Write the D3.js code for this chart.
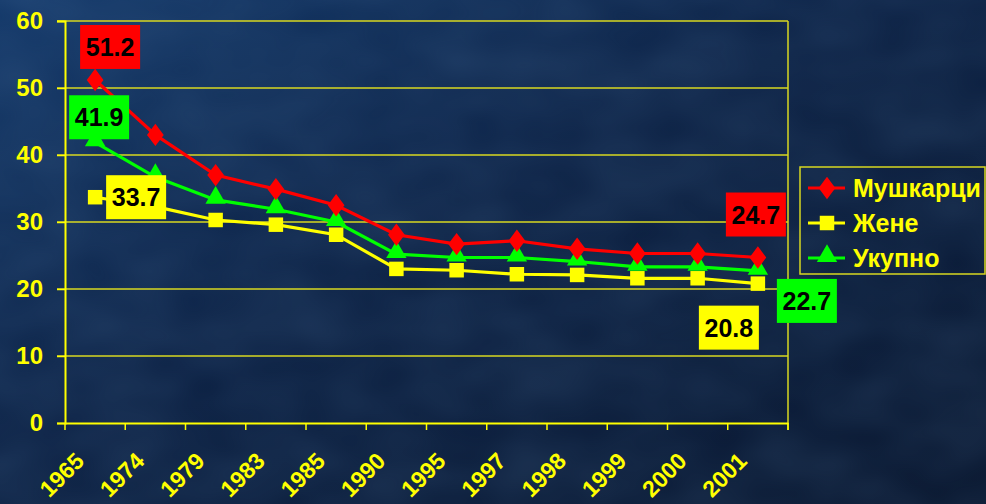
<!DOCTYPE html>
<html>
<head>
<meta charset="utf-8">
<script src="https://cdn.jsdelivr.net/npm/d3@7"></script>
<style>
  body { margin: 0; background: #0b1a33; }
  svg { display: block; }
</style>
</head>
<body>
<div id="chart"></div>
<script>
var years = ["1965", "1974", "1979", "1983", "1985", "1990", "1995", "1997", "1998", "1999", "2000", "2001"];
var men   = [51.2, 43.0, 37.0, 34.9, 32.5, 28.1, 26.7, 27.2, 26.0, 25.3, 25.3, 24.7];
var women = [33.7, 32.3, 30.3, 29.6, 28.1, 23.0, 22.8, 22.2, 22.1, 21.6, 21.6, 20.8];
var total = [41.9, 36.7, 33.3, 31.9, 30.0, 25.2, 24.7, 24.7, 24.1, 23.3, 23.3, 22.7];
var seriesNames = ["Мушкарци", "Жене", "Укупно"];
var yTicks = [0, 10, 20, 30, 40, 50, 60];

var width = 986,
    height = 504;

var margin = {left: 65, right: 198, top: 21, bottom: 81};
var font = "Liberation Sans, Arial, sans-serif";

var series = [
  {name: seriesNames[0], values: men,   color: "#ff0000", symbol: d3.symbolDiamond, size: 200},
  {name: seriesNames[1], values: women, color: "#ffff00", symbol: d3.symbolSquare,  size: 210},
  {name: seriesNames[2], values: total, color: "#00ff00", symbol: d3.symbolTriangle, size: 180}
];

// where the value boxes sit, relative to the point (first and last point)
var labelPlace = [
  [{dx: 15, dy: -33}, {dx: -2, dy: -43}],
  [{dx: 41, dy: 0},   {dx: -29, dy: 44}],
  [{dx: 4, dy: -25},  {dx: 49, dy: 30}]
];

var svg = d3.select("#chart")
    .append("svg")
    .attr("width", width)
    .attr("height", height);

// background
var defs = svg.append("defs");
var grad = defs.append("linearGradient")
    .attr("id", "bg")
    .attr("x1", "0").attr("y1", "0")
    .attr("x2", "1").attr("y2", "1");
grad.append("stop").attr("offset", "0%").attr("stop-color", "#153a6b");
grad.append("stop").attr("offset", "45%").attr("stop-color", "#0e2447");
grad.append("stop").attr("offset", "100%").attr("stop-color", "#0a1830");

var filt = defs.append("filter").attr("id", "mottle")
    .attr("x", 0).attr("y", 0).attr("width", "100%").attr("height", "100%");
filt.append("feTurbulence")
    .attr("type", "fractalNoise")
    .attr("baseFrequency", "0.012 0.02")
    .attr("numOctaves", 2)
    .attr("seed", 7);
filt.append("feColorMatrix")
    .attr("type", "matrix")
    .attr("values", "0 0 0 0 0.12  0 0 0 0 0.25  0 0 0 0 0.45  0 0 0 0.35 -0.05");

svg.append("rect")
    .attr("width", width).attr("height", height)
    .attr("fill", "url(#bg)");
svg.append("rect")
    .attr("width", width).attr("height", height)
    .attr("filter", "url(#mottle)")
    .attr("opacity", 0.6);

var x = d3.scaleBand()
    .domain(years)
    .range([margin.left, width - margin.right]);

var y = d3.scaleLinear()
    .domain([0, 60])
    .range([height - margin.bottom, margin.top]);

var g = svg.append("g").attr("class", "chart");

// gridlines
g.selectAll(".grid")
    .data(yTicks.filter(function(d) { return d > 0; }))
    .enter()
    .append("line")
    .attr("class", "grid")
    .attr("x1", margin.left - 8)
    .attr("x2", width - margin.right)
    .attr("y1", function(d) { return y(d); })
    .attr("y2", function(d) { return y(d); })
    .style("stroke", "#d8d820")
    .style("stroke-width", 1.5);

// right frame
g.append("line")
    .attr("x1", width - margin.right).attr("x2", width - margin.right)
    .attr("y1", y(60)).attr("y2", y(0) + 7)
    .style("stroke", "#d8d820")
    .style("stroke-width", 1.5);

// y axis
var yAxis = g.append("g")
    .attr("transform", "translate(" + margin.left + ",0)")
    .call(d3.axisLeft(y).tickValues(yTicks).tickSize(8).tickPadding(14));

// x axis
var xAxis = g.append("g")
    .attr("transform", "translate(0," + y(0) + ")")
    .call(d3.axisBottom(x).tickSize(0).tickFormat(""));

g.selectAll(".xtick")
    .data(years.concat(["end"]))
    .enter()
    .append("line")
    .attr("class", "xtick")
    .attr("x1", function(d, i) { return margin.left + i * x.step(); })
    .attr("x2", function(d, i) { return margin.left + i * x.step(); })
    .attr("y1", y(0))
    .attr("y2", y(0) + 7)
    .style("stroke", "#ffff00")
    .style("stroke-width", 1.5);

[yAxis, xAxis].forEach(function(a) {
  a.select(".domain").style("stroke", "#ffff00").style("stroke-width", 2);
  a.selectAll(".tick line").style("stroke", "#ffff00").style("stroke-width", 1.5);
});

yAxis.selectAll(".tick text")
    .style("fill", "#ffff00")
    .style("font-family", font)
    .style("font-weight", "bold")
    .style("font-size", "24px");

g.selectAll(".xlabel")
    .data(years)
    .enter()
    .append("text")
    .attr("class", "xlabel")
    .attr("transform", function(d) {
      return "translate(" + (x(d) + x.bandwidth() / 2 - 21) + "," + (y(0) + 28) + ") rotate(-45)";
    })
    .attr("text-anchor", "end")
    .attr("dy", "0.7em")
    .style("fill", "#ffff00")
    .style("font-family", font)
    .style("font-weight", "bold")
    .style("font-size", "23px")
    .text(function(d) { return d; });

// lines
var line = d3.line()
    .x(function(d, i) { return x(years[i]) + x.bandwidth() / 2; })
    .y(function(d) { return y(d); });

// draw order: total, women, men on top
[2, 1, 0].forEach(function(k) {
  var s = series[k];
  g.append("path")
      .datum(s.values)
      .attr("d", line)
      .style("fill", "none")
      .style("stroke", s.color)
      .style("stroke-width", 3.2);
});

[2, 1, 0].forEach(function(k) {
  var s = series[k];
  g.selectAll(".pt" + k)
      .data(s.values)
      .enter()
      .append("path")
      .attr("class", "pt" + k)
      .attr("d", d3.symbol().type(s.symbol).size(s.size))
      .attr("transform", function(d, i) {
        var yy = y(d) + (s.symbol === d3.symbolTriangle ? -2 : 0);
        return "translate(" + (x(years[i]) + x.bandwidth() / 2) + "," + yy + ")" +
               (s.symbol === d3.symbolDiamond ? " scale(1.1,0.85)" : "");
      })
      .style("fill", s.color);
});

// value boxes at first and last point
series.forEach(function(s, k) {
  [0, years.length - 1].forEach(function(i, j) {
    var p = labelPlace[k][j];
    var cx = x(years[i]) + x.bandwidth() / 2 + p.dx,
        cy = y(s.values[i]) + p.dy;
    g.append("rect")
        .attr("x", cx - 30).attr("y", cy - 22)
        .attr("width", 60).attr("height", 44)
        .style("fill", s.color);
    g.append("text")
        .attr("x", cx).attr("y", cy)
        .attr("dy", "0.36em")
        .attr("text-anchor", "middle")
        .style("fill", "#000")
        .style("font-family", font)
        .style("font-weight", "bold")
        .style("font-size", "25px")
        .text(d3.format(".1f")(s.values[i]));
  });
});

// legend
var legend = svg.append("g").attr("transform", "translate(800,167)");
legend.append("rect")
    .attr("width", 185).attr("height", 107)
    .style("fill", "none")
    .style("stroke", "#d8d820")
    .style("stroke-width", 1.5);

series.forEach(function(s, k) {
  var row = legend.append("g").attr("transform", "translate(0," + (21 + k * 35) + ")");
  row.append("line")
      .attr("x1", 8).attr("x2", 45)
      .style("stroke", s.color)
      .style("stroke-width", 3);
  row.append("path")
      .attr("d", d3.symbol().type(s.symbol).size(s.size))
      .attr("transform", "translate(27," + (s.symbol === d3.symbolTriangle ? -2 : 0) + ")" +
            (s.symbol === d3.symbolDiamond ? " scale(1.1,0.85)" : ""))
      .style("fill", s.color);
  row.append("text")
      .attr("x", 53)
      .attr("dy", "0.36em")
      .style("fill", "#ffff00")
      .style("font-family", font)
      .style("font-weight", "bold")
      .style("font-size", "25px")
      .text(s.name);
});
</script>
</body>
</html>
